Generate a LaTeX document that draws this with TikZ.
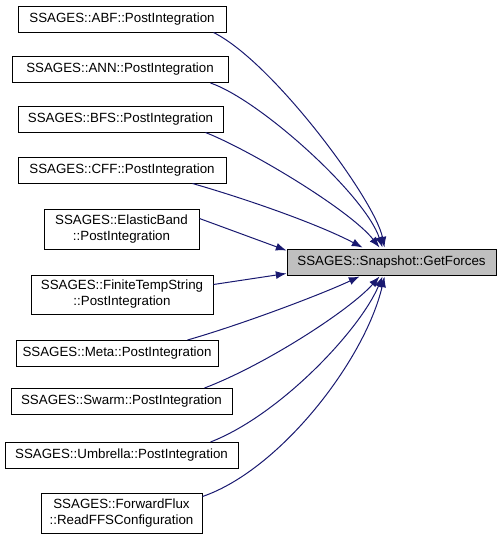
\documentclass[tikz,border=0pt]{standalone}
\usepackage{fontspec}
\setmainfont{Liberation Sans}
\usetikzlibrary{arrows.meta}
\definecolor{edgeblue}{HTML}{191970}
\definecolor{tgtgray}{HTML}{BFBFBF}
\begin{document}
\begin{tikzpicture}[x=0.75pt,y=-0.75pt,
  box/.style={draw=black,line width=0.75pt,fill=white,inner sep=0pt,align=center,
    font=\fontsize{10pt}{12pt}\selectfont},
  tgt/.style={box,fill=tgtgray},
  edge/.style={draw=edgeblue,line width=0.75pt,-{Latex[length=8pt,width=6pt]}}]
\useasboundingbox (0,0) rectangle (501,539);
\node[box,minimum width=208*0.75pt,minimum height=26*0.75pt] (abf) at (122,19) {SSAGES::ABF::PostIntegration};
\node[box,minimum width=216*0.75pt,minimum height=26*0.75pt] (ann) at (120,69.5) {SSAGES::ANN::PostIntegration};
\node[box,minimum width=205*0.75pt,minimum height=26*0.75pt] (bfs) at (120.5,119) {SSAGES::BFS::PostIntegration};
\node[box,minimum width=208*0.75pt,minimum height=26*0.75pt] (cff) at (122,170) {SSAGES::CFF::PostIntegration};
\node[box,minimum width=155*0.75pt,minimum height=40*0.75pt] (eb) at (121.5,229) {SSAGES::ElasticBand\\::PostIntegration};
\node[box,minimum width=182*0.75pt,minimum height=39*0.75pt] (fts) at (122,294.5) {SSAGES::FiniteTempString\\::PostIntegration};
\node[box,minimum width=202*0.75pt,minimum height=26*0.75pt] (meta) at (117,353.5) {SSAGES::Meta::PostIntegration};
\node[box,minimum width=221*0.75pt,minimum height=26*0.75pt] (swarm) at (121.5,401.5) {SSAGES::Swarm::PostIntegration};
\node[box,minimum width=233*0.75pt,minimum height=26*0.75pt] (umb) at (121.5,455.5) {SSAGES::Umbrella::PostIntegration};
\node[box,minimum width=161*0.75pt,minimum height=40*0.75pt] (ffs) at (121.5,513) {SSAGES::ForwardFlux\\::ReadFFSConfiguration};
\node[tgt,minimum width=209*0.75pt,minimum height=26*0.75pt] (snap) at (391.5,262) {SSAGES::Snapshot::GetForces};

\draw[edge] ([shift={(-13,0)}]abf.south east) .. controls (273,62) and (375,200) .. ([shift={(98,-1)}]snap.north west);
\draw[edge] ([shift={(-18,0)}]ann.south east) .. controls (260,100) and (365,195) .. ([shift={(96,-1)}]snap.north west);
\draw[edge] ([shift={(-18,0)}]bfs.south east) .. controls (250,150) and (350,210) .. ([shift={(93,-1)}]snap.north west);
\draw[edge] ([shift={(-34,0)}]cff.south east) .. controls (250,200) and (320,225) .. ([shift={(76,-1)}]snap.north west);
\draw[edge] ([shift={(0,10)}]eb.north east) -- ([shift={(0,2)}]snap.north west);
\draw[edge] ([shift={(0,10)}]fts.north east) -- ([shift={(0,-2)}]snap.south west);
\draw[edge] ([shift={(-31,0)}]meta.north east) .. controls (240,325) and (320,295) .. ([shift={(73,1)}]snap.south west);
\draw[edge] ([shift={(-28,0)}]swarm.north east) .. controls (265,365) and (350,310) .. ([shift={(93,1)}]snap.south west);
\draw[edge] ([shift={(-28,0)}]umb.north east) .. controls (280,415) and (360,330) .. ([shift={(96,1)}]snap.south west);
\draw[edge] ([shift={(0,4)}]ffs.north east) .. controls (280,470) and (365,360) .. ([shift={(98,1)}]snap.south west);
\end{tikzpicture}
\end{document}
